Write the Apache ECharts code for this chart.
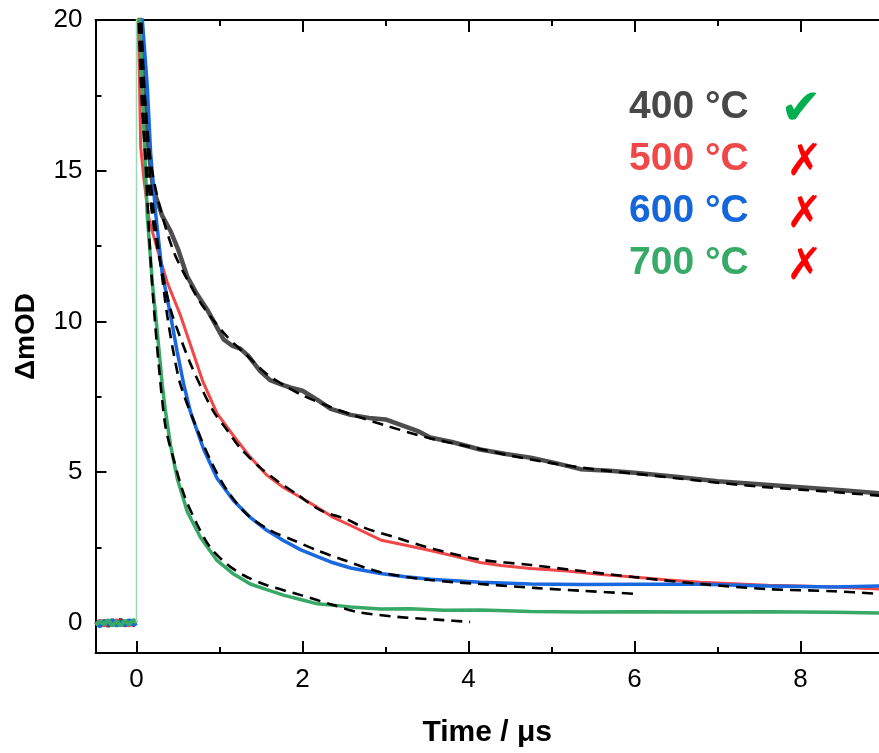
<!DOCTYPE html>
<html>
<head>
<meta charset="utf-8">
<script src="https://cdn.jsdelivr.net/npm/echarts@6/dist/echarts.min.js"></script>
<style>html,body{margin:0;padding:0;background:#fff}#c{width:879px;height:753px}</style>
</head>
<body>
<div id="c"></div>
<script>
// ---- data ----
const baseT = [-0.49, -0.44, -0.39, -0.34, -0.29, -0.24, -0.19, -0.14, -0.09, -0.04, 0];
const base400 = [0.05, -0.1, 0.08, -0.12, 0.1, -0.05, 0.12, -0.1, 0.06, -0.08, 0];
const base500 = [-0.05, 0.08, -0.1, 0.06, -0.08, 0.1, -0.06, 0.05, -0.1, 0.08, 0];
const base600 = [0.02, -0.12, 0.06, -0.04, 0.1, -0.1, 0.04, -0.08, 0.1, -0.05, 0];
const base700 = [-0.08, 0.06, -0.05, 0.1, -0.1, 0.05, -0.1, 0.08, -0.06, 0.1, 0];

const t400 = [0, 0.03, 0.07, 0.11, 0.15, 0.2, 0.25, 0.31, 0.41, 0.5, 0.61, 0.73, 0.85, 0.95, 1.05, 1.15, 1.25, 1.35, 1.49, 1.61, 1.75, 1.86, 2.0, 2.18, 2.34, 2.58, 2.8, 3.0, 3.2, 3.4, 3.54, 3.8, 4.14, 4.45, 4.75, 5.05, 5.35, 5.7, 6.0, 6.5, 7.0, 7.5, 8.0, 8.5, 8.95];
const v400 = [22, 20.5, 18.9, 16.7, 15.6, 14.4, 14.0, 13.5, 13.0, 12.4, 11.5, 10.9, 10.4, 9.9, 9.4, 9.2, 9.1, 8.85, 8.35, 8.05, 7.9, 7.8, 7.7, 7.4, 7.1, 6.9, 6.8, 6.75, 6.55, 6.35, 6.15, 6.0, 5.75, 5.6, 5.48, 5.3, 5.1, 5.05, 4.98, 4.85, 4.7, 4.6, 4.5, 4.4, 4.3];

const t500 = [0, 0.03, 0.05, 0.09, 0.15, 0.25, 0.37, 0.53, 0.69, 0.8, 0.97, 1.17, 1.37, 1.57, 1.77, 1.98, 2.18, 2.37, 2.58, 2.94, 3.2, 3.54, 3.85, 4.14, 4.39, 4.75, 5.19, 5.6, 5.99, 6.4, 6.8, 7.2, 7.6, 8.0, 8.4, 8.95];
const v500 = [22, 18.9, 15.8, 14.7, 13.4, 12.4, 11.3, 10.2, 8.9, 8.0, 6.95, 6.2, 5.5, 4.9, 4.49, 4.16, 3.83, 3.5, 3.23, 2.75, 2.6, 2.4, 2.2, 2.0, 1.9, 1.8, 1.72, 1.6, 1.52, 1.42, 1.35, 1.3, 1.25, 1.22, 1.19, 1.12];

const t600 = [0, 0.07, 0.13, 0.17, 0.23, 0.31, 0.41, 0.49, 0.57, 0.65, 0.81, 0.97, 1.17, 1.37, 1.57, 1.77, 1.98, 2.18, 2.34, 2.58, 2.94, 3.24, 3.54, 4.14, 4.75, 5.35, 5.99, 6.8, 7.6, 8.4, 8.95];
const v600 = [22, 20, 17.8, 15.6, 13.6, 11.6, 10.2, 9.0, 7.9, 7.0, 5.75, 4.8, 4.05, 3.5, 3.07, 2.73, 2.42, 2.2, 2.02, 1.82, 1.64, 1.53, 1.45, 1.35, 1.29, 1.27, 1.28, 1.28, 1.22, 1.19, 1.22];

const t700 = [0, 0.04, 0.08, 0.13, 0.19, 0.25, 0.31, 0.35, 0.41, 0.49, 0.61, 0.77, 0.97, 1.17, 1.37, 1.57, 1.77, 2.0, 2.18, 2.58, 2.94, 3.3, 3.7, 4.14, 4.75, 5.35, 6.0, 6.8, 7.6, 8.4, 8.95];
const v700 = [22, 20, 17, 13.5, 11.3, 9.67, 7.9, 7.0, 5.9, 4.8, 3.7, 2.84, 2.07, 1.62, 1.29, 1.1, 0.92, 0.76, 0.63, 0.53, 0.46, 0.47, 0.42, 0.43, 0.38, 0.36, 0.37, 0.36, 0.37, 0.35, 0.33];

const riseT = [0, 0];
const riseV = [0, 22];

const fitT400 = [0.04, 0.07, 0.1, 0.15, 0.2, 0.3, 0.45, 0.61, 0.8, 1.09, 1.3, 1.57, 1.8, 2.0, 2.3, 2.6, 3.0, 3.5, 4.0, 4.5, 5.0, 5.5, 6.0, 6.5, 7.0, 7.5, 8.0, 8.5, 8.95];
const fitV400 = [20.5, 18.8, 17.5, 15.8, 14.8, 13.6, 12.3, 11.4, 10.5, 9.5, 8.95, 8.25, 7.85, 7.55, 7.2, 6.9, 6.55, 6.15, 5.85, 5.55, 5.3, 5.1, 4.95, 4.8, 4.65, 4.52, 4.42, 4.32, 4.22];

const fitT500 = [0.02, 0.06, 0.1, 0.2, 0.29, 0.41, 0.55, 0.65, 0.79, 0.93, 1.09, 1.25, 1.49, 1.7, 1.93, 2.22, 2.54, 2.73, 3.1, 3.58, 4.14, 4.75, 5.27, 5.99, 6.8, 7.6, 8.4, 8.95];
const fitV500 = [20.5, 17.5, 15.8, 13.3, 11.9, 10.4, 9.3, 8.6, 7.75, 7.0, 6.4, 5.8, 5.15, 4.7, 4.27, 3.73, 3.43, 3.17, 2.85, 2.45, 2.1, 1.92, 1.75, 1.52, 1.29, 1.12, 1.05, 0.96];

const fitT600 = [0.05, 0.08, 0.13, 0.2, 0.29, 0.37, 0.45, 0.53, 0.69, 0.89, 1.09, 1.33, 1.61, 1.89, 2.18, 2.46, 2.94, 3.54, 4.14, 4.79, 5.39, 6.03];
const fitV600 = [20.5, 18.5, 16.0, 13.8, 11.9, 10.2, 8.9, 7.9, 6.7, 5.4, 4.4, 3.6, 3.07, 2.74, 2.4, 2.12, 1.68, 1.42, 1.29, 1.16, 1.06, 0.96];

const fitT700 = [0.03, 0.08, 0.15, 0.2, 0.27, 0.35, 0.45, 0.57, 0.73, 0.89, 1.09, 1.29, 1.57, 1.98, 2.37, 2.66, 3.14, 3.66, 4.02];
const fitV700 = [20.5, 17.0, 13.0, 10.8, 8.5, 6.5, 5.4, 4.27, 3.27, 2.5, 1.95, 1.58, 1.25, 0.92, 0.59, 0.36, 0.2, 0.1, 0.03];

const xMajor = [0, 2, 4, 6, 8];
const xMinor = [1, 3, 5, 7];
const yMajor = [0, 5, 10, 15, 20];
const yMinor = [2.5, 7.5, 12.5, 17.5];

const legendLabels = ['400 °C', '500 °C', '600 °C', '700 °C'];
const legendMarks = ['✔', '✗', '✗', '✗'];

// ---- styles ----
const traceColors = ['#4d4d4d', '#f04848', '#1a68e0', '#38a866'];
const labelColors = ['#484848', '#f04848', '#1566da', '#38aa68'];
const markColors = ['#00b050', '#ff0000', '#ff0000', '#ff0000'];
const traceWidths = [4.5, 3, 3.5, 3.5];

function pts(ts, vs) { return ts.map((t, i) => [t, vs[i]]); }

const XMIN = -0.494, XMAX = 8.946, YMIN = -1, YMAX = 20;
const FONT = '"Liberation Sans", Arial, sans-serif';

function xAx(pos, vals, len, showLine, labels) {
  return {
    type: 'value', position: pos, min: XMIN, max: XMAX,
    axisLine: { show: showLine, onZero: false, lineStyle: { color: '#000', width: 2 } },
    axisTick: { show: true, inside: true, length: len, customValues: vals, lineStyle: { color: '#000', width: 2 } },
    axisLabel: labels ? { show: true, customValues: vals, fontSize: 26, color: '#000', margin: 14, fontFamily: FONT } : { show: false },
    splitLine: { show: false },
    name: labels ? 'Time / μs' : '',
    nameLocation: 'middle', nameGap: 65,
    nameTextStyle: { fontSize: 30, fontWeight: 'bold', color: '#000', fontFamily: FONT }
  };
}
function yAx(vals, len, labels) {
  return {
    type: 'value', position: 'left', min: YMIN, max: YMAX,
    axisLine: { show: labels, onZero: false, lineStyle: { color: '#000', width: 2 } },
    axisTick: { show: true, inside: true, length: len, customValues: vals, lineStyle: { color: '#000', width: 2 } },
    axisLabel: labels ? { show: true, customValues: vals, fontSize: 26, color: '#000', margin: 13, fontFamily: FONT } : { show: false },
    splitLine: { show: false },
    name: labels ? 'ΔmOD' : '',
    nameLocation: 'middle', nameGap: 55,
    nameTextStyle: { fontSize: 28, fontWeight: 'bold', color: '#000', fontFamily: FONT }
  };
}

const bases = [base400, base500, base600, base700];
const traces = [[t400, v400], [t500, v500], [t600, v600], [t700, v700]];
const fits = [[fitT400, fitV400], [fitT500, fitV500], [fitT600, fitV600], [fitT700, fitV700]];

const series = [];
bases.forEach((b, i) => series.push({
  type: 'line', data: pts(baseT, b), showSymbol: false, silent: true, animation: false,
  lineStyle: { color: traceColors[i], width: 4 }, z: 2
}));
traces.forEach((tr, i) => series.push({
  type: 'line', data: pts(tr[0], tr[1]), showSymbol: false, silent: true, animation: false,
  lineStyle: { color: traceColors[i], width: traceWidths[i] }, z: 2
}));
series.push({
  type: 'line', data: pts(riseT, riseV), showSymbol: false, silent: true, animation: false,
  lineStyle: { color: '#9cd8b4', width: 1.5 }, z: 3
});
fits.forEach((f) => series.push({
  type: 'line', data: pts(f[0], f[1]), showSymbol: false, silent: true, animation: false, smooth: 0.3,
  lineStyle: { color: '#000', width: 2.6, type: [11, 7] }, z: 4
}));

const graphic = [];
legendLabels.forEach((lab, i) => {
  const cy = 107 + i * 52;
  graphic.push({
    type: 'text', left: 629, top: cy - 19, silent: true,
    style: { text: lab, fill: labelColors[i], font: 'bold 39px ' + FONT }
  });
  graphic.push({
    type: 'text', left: i === 0 ? 780 : 786, top: i === 0 ? cy - 21 : cy - 17, silent: true,
    style: { text: legendMarks[i], fill: markColors[i], font: (i === 0 ? '50px ' : '44px ') + '"DejaVu Sans", sans-serif' }
  });
});

const chart = echarts.init(document.getElementById('c'), null, { renderer: 'canvas' });
chart.setOption({
  backgroundColor: '#fff',
  animation: false,
  grid: { left: 95.5, right: 0, top: 20, bottom: 98, containLabel: false },
  xAxis: [
    xAx('bottom', xMajor, 12, true, true),
    xAx('bottom', xMinor, 6, false, false),
    xAx('top', xMajor, 12, true, false),
    xAx('top', xMinor, 6, false, false)
  ],
  yAxis: [yAx(yMajor, 11, true), yAx(yMinor, 6, false)],
  series: series,
  graphic: graphic
});
</script>
</body>
</html>
